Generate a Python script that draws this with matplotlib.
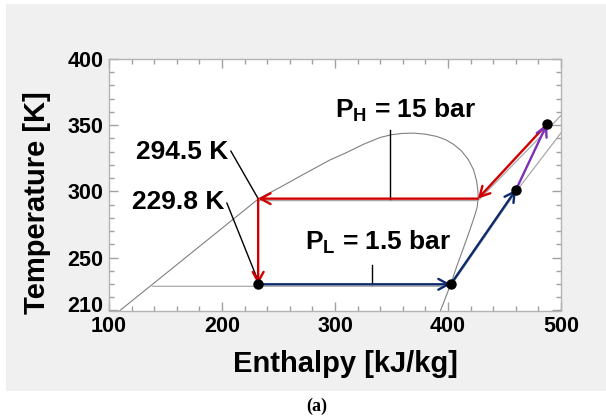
import numpy as np
import matplotlib
matplotlib.use("Agg")
import matplotlib.pyplot as plt
import matplotlib.transforms as mtransforms
from matplotlib.patches import Rectangle

plt.rcParams['font.family'] = ['Liberation Sans', 'DejaVu Sans']
plt.rcParams['font.weight'] = 'bold'
plt.rcParams['mathtext.fontset'] = 'custom'
plt.rcParams['mathtext.rm'] = 'Liberation Sans:bold'
plt.rcParams['mathtext.default'] = 'rm'

# saturation dome (enthalpy kJ/kg, temperature K)
dome_h = [109.7, 170.0, 232.5, 251.3, 266.0, 280.8, 295.0, 310.4, 325.0, 339.8,
          350.0, 360.0, 370.0, 380.0, 390.0, 398.0, 405.0, 412.0, 418.0, 422.5,
          425.3, 426.5, 426.6, 425.8, 423.0, 419.0, 414.0, 408.0, 402.4, 397.5, 393.4]
dome_T = [210.0, 251.5, 294.5, 303.0, 310.0, 316.9, 323.5, 329.4, 335.5, 340.7,
          342.8, 343.8, 344.0, 343.2, 341.5, 339.0, 335.5, 330.5, 324.0, 316.5,
          308.0, 300.0, 294.5, 288.0, 280.0, 270.0, 258.0, 244.0, 229.8, 219.0, 210.0]

# isobars
pl_h = [138.5, 402.4, 460.2, 500.0]
pl_T = [229.8, 229.8, 301.3, 345.7]
ph_h = [232.5, 426.6, 500.0]
ph_T = [294.5, 294.5, 358.8]

# cycle states
T_low = 229.8
T_high = 294.5
h1, T1 = 402.4, T_low      # evaporator exit
h2a, T2a = 460.2, 301.3    # intermediate compression point
h2, T2 = 487.6, 350.8      # compressor exit
h3a, T3a = 426.5, T_high   # saturated vapour, high side
h3, T3 = 232.0, T_high     # condenser exit
h4, T4 = 232.0, T_low      # evaporator inlet

fig = plt.figure(figsize=(6.06, 4.16), dpi=100)
fig.patch.set_facecolor('white')
fig.patches.append(Rectangle((6 / 606, 1 - 391 / 416), 1 - 6 / 606, 387 / 416,
                             transform=fig.transFigure, facecolor='#f0f0f0',
                             edgecolor='none', zorder=-10))

ax = fig.add_axes([109 / 606, 1 - 310.5 / 416, 452 / 606, 251.5 / 416])
ax.set_facecolor('white')
ax.set_xlim(100, 500)
ax.set_ylim(210, 400)

ax.plot(dome_h, dome_T, color='#808080', lw=0.8, zorder=2)
shift = mtransforms.offset_copy(ax.transData, fig=fig, x=0, y=-2, units='dots')
ax.plot(pl_h, pl_T, color='#a8a8a8', lw=0.9, transform=shift, zorder=2)
ax.plot(ph_h, ph_T, color='#a8a8a8', lw=0.9, transform=shift, zorder=2)

red = '#d00000'
blue = '#0c2a6c'
purple = '#7a30b8'
head = '->,head_length=0.55,head_width=0.3'


def arrow(p0, p1, color):
    ax.annotate('', xy=p1, xytext=p0,
                arrowprops=dict(arrowstyle=head, color=color, lw=1.7,
                                shrinkA=0, shrinkB=0, mutation_scale=13),
                zorder=4)


arrow((h2, T2), (h3a, T3a), red)
arrow((h3a, T3a), (h3, T3), red)
arrow((h3, T3), (h4, T4), red)
arrow((h4, T4), (h1, T1), blue)
arrow((h1, T1), (h2a, T2a), blue)
arrow((h2a, T2a), (h2, T2), purple)

ax.plot([h4, h1, h2a, h2], [T4, T1, T2a, T2], 'o', color='black', ms=6.5, zorder=5)

# pressure labels with leader ticks
ax.text(300, 355.8, r'P$_\mathregular{H}$ = 15 bar', fontsize=19, ha='left', va='baseline')
ax.plot([348.7, 348.7], [346.3, T_high], color='black', lw=1.0, zorder=3)
ax.text(273.5, 255.8, r'P$_\mathregular{L}$ = 1.5 bar', fontsize=19, ha='left', va='baseline')
ax.plot([332.5, 332.5], [244.7, T_low], color='black', lw=1.0, zorder=3)

# temperature labels
ax.annotate('294.5 K', xy=(h3, T3), xytext=(205.3, 324.4), fontsize=19,
            ha='right', va='baseline', annotation_clip=False,
            arrowprops=dict(arrowstyle='-', color='black', lw=1.0,
                            shrinkA=0, shrinkB=0, relpos=(1.0, 0.75)))
ax.annotate('229.8 K', xy=(h4, T4 + 2.5), xytext=(201.8, 286.7), fontsize=19,
            ha='right', va='baseline', annotation_clip=False,
            arrowprops=dict(arrowstyle='-', color='black', lw=1.0,
                            shrinkA=0, shrinkB=0, relpos=(1.0, 0.75)))

ax.set_xticks([100, 200, 300, 400, 500])
ax.set_xticks(np.arange(120, 500, 20), minor=True)
ax.set_yticks([210, 250, 300, 350, 400])
ax.set_yticks(np.arange(220, 400, 10), minor=True)
ax.tick_params(which='both', direction='in', top=True, right=True,
               color='#a0a0a0', width=1.0, labelsize=15.5, pad=4)
ax.tick_params(which='major', length=6.5)
ax.tick_params(which='minor', length=3.3)
for lab in ax.get_xticklabels() + ax.get_yticklabels():
    lab.set_fontweight('bold')
for sp in ax.spines.values():
    sp.set_color('#b4b4b4')
    sp.set_linewidth(1.0)

# lift the bottom y label a little so it clears the first x label
fig.canvas.draw()
ylab0 = ax.get_yticklabels()[0]
ylab0.set_transform(ylab0.get_transform() +
                    mtransforms.ScaledTranslation(0, 5 / 72, fig.dpi_scale_trans))

fig.text(37.5 / 606, 1 - 202.5 / 416, 'Temperature [K]', rotation=90,
         fontsize=21, ha='center', va='center')
fig.text(345 / 606, 1 - 371.7 / 416, 'Enthalpy [kJ/kg]', fontsize=21,
         ha='center', va='baseline')
fig.text(316.7 / 606, 1 - 406 / 416, '(a)', fontsize=13, ha='center', va='center',
         family='Liberation Serif', fontweight='bold')

fig.savefig('out.png', dpi=100)
